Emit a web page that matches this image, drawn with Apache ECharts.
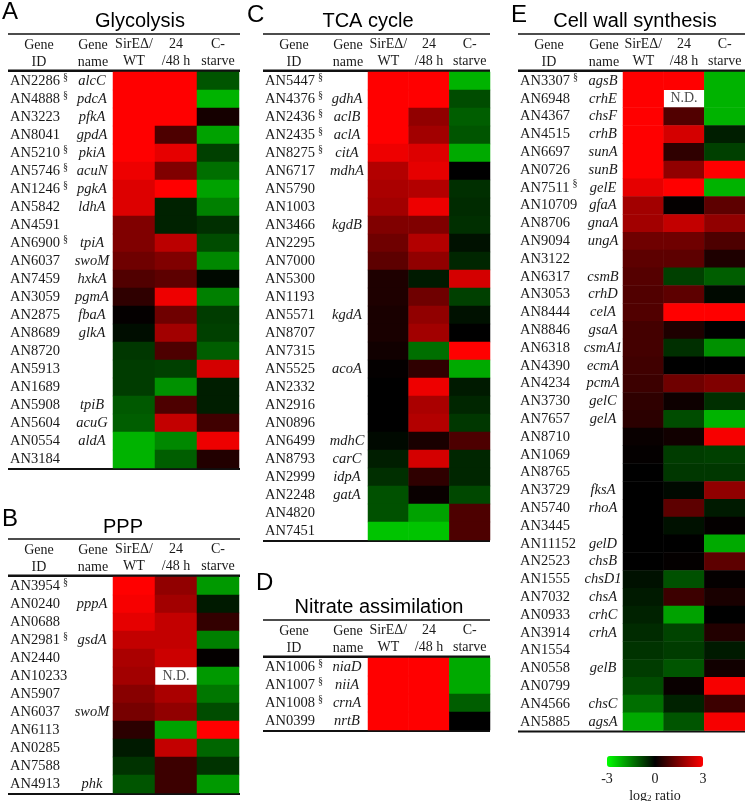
<!DOCTYPE html>
<html><head><meta charset="utf-8">
<script src="https://cdn.jsdelivr.net/npm/echarts@6/dist/echarts.min.js"></script>
<style>html,body{margin:0;padding:0;background:#fff}#c{width:745px;height:801px}</style>
</head><body><div id="c"></div><script>
// ---------- DATA ----------
const colLabels = ['SirEΔ/\nWT', '24\n/48 h', 'C-\nstarve'];

// A: Glycolysis
const idsA = ['AN2286§','AN4888§','AN3223','AN8041','AN5210§','AN5746§','AN1246§','AN5842','AN4591','AN6900§','AN6037','AN7459','AN3059','AN2875','AN8689','AN8720','AN5913','AN1689','AN5908','AN5604','AN0554','AN3184'];
const namesA = ['alcC','pdcA','pfkA','gpdA','pkiA','acuN','pgkA','ldhA','','tpiA','swoM','hxkA','pgmA','fbaA','glkA','','','','tpiB','acuG','aldA',''];
const sirA = [3,3,3,3,3,2.8,2.6,2.6,1.5,1.5,1.3,0.95,0.55,0.05,-0.15,-0.65,-0.7,-0.7,-1.05,-1.1,-2.1,-2.1];
const hA   = [3,3,3,0.9,2.7,1.5,3,-0.4,-0.4,2.2,1.5,1.1,2.8,1.3,1.9,0.9,-0.75,-1.7,0.9,2.3,-1.6,-1.1];
const cA   = [-1.0,-2.1,0.25,-1.9,-0.75,-1.3,-1.9,-1.5,-0.55,-0.9,-1.6,-0.1,-1.5,-0.7,-0.75,-1.1,2.5,-0.35,-0.35,0.75,2.8,0.4];

// B: PPP
const idsB = ['AN3954§','AN0240','AN0688','AN2981§','AN2440','AN10233','AN5907','AN6037','AN6113','AN0285','AN7588','AN4913'];
const namesB = ['','pppA','','gsdA','','','','swoM','','','','phk'];
const sirB = [3,2.9,2.7,2.3,2.0,1.9,1.6,1.4,0.5,-0.3,-0.6,-1.0];
const hB   = [1.7,1.9,2.3,2.3,2.4,null,2.0,1.7,-1.9,2.3,0.7,0.7];
const cB   = [-1.8,-0.3,0.6,-1.5,0.05,-1.8,-1.4,-0.9,3,-1.2,-0.6,-1.8];

// C: TCA cycle
const idsC = ['AN5447§','AN4376§','AN2436§','AN2435§','AN8275§','AN6717','AN5790','AN1003','AN3466','AN2295','AN7000','AN5300','AN1193','AN5571','AN8707','AN7315','AN5525','AN2332','AN2916','AN0896','AN6499','AN8793','AN2999','AN2248','AN4820','AN7451'];
const namesC = ['','gdhA','aclB','aclA','citA','mdhA','','','kgdB','','','','','kgdA','','','acoA','','','','mdhC','carC','idpA','gatA','',''];
const sirC = [3,3,3,3,2.8,2.1,2.0,1.9,1.5,1.3,1.1,0.35,0.35,0.3,0.3,0.2,0.05,0,0,0,-0.1,-0.35,-0.55,-0.95,-0.95,-2.3];
const hC   = [3,3,1.7,1.9,2.6,2.7,2.1,2.8,1.5,2.1,1.7,-0.3,1.3,1.7,1.9,-1.3,0.55,2.8,2.0,2.1,0.3,2.5,0.55,0.1,-1.9,-2.3];
const cC   = [-2.1,-0.9,-1.1,-1.0,-2.0,0,-0.55,-0.5,-0.55,-0.2,-0.45,2.5,-0.75,-0.2,0,3,-2.0,-0.3,-0.45,-0.65,0.9,-0.45,-0.45,-0.85,0.9,0.9];

// D: Nitrate assimilation
const idsD = ['AN1006§','AN1007§','AN1008§','AN0399'];
const namesD = ['niaD','niiA','crnA','nrtB'];
const sirD = [3,3,3,3];
const hD   = [3,3,3,3];
const cD   = [-2.0,-2.0,-1.1,0];

// E: Cell wall synthesis
const idsE = ['AN3307§','AN6948','AN4367','AN4515','AN6697','AN0726','AN7511§','AN10709','AN8706','AN9094','AN3122','AN6317','AN3053','AN8444','AN8846','AN6318','AN4390','AN4234','AN3730','AN7657','AN8710','AN1069','AN8765','AN3729','AN5740','AN3445','AN11152','AN2523','AN1555','AN7032','AN0933','AN3914','AN1554','AN0558','AN0799','AN4566','AN5885'];
const namesE = ['agsB','crhE','chsF','crhB','sunA','sunB','gelE','gfaA','gnaA','ungA','','csmB','crhD','celA','gsaA','csmA1','ecmA','pcmA','gelC','gelA','','','','fksA','rhoA','','gelD','chsB','chsD1','chsA','crhC','crhA','','gelB','','chsC','agsA'];
const sirE = [3,3,3,3,3,3,2.7,1.9,1.9,1.3,1.1,1.0,0.95,0.95,0.8,0.8,0.75,0.7,0.55,0.5,0.1,0.05,0,0,0,0,0,0,-0.2,-0.3,-0.4,-0.5,-0.6,-0.7,-0.9,-1.3,-2.0];
const hE   = [3,null,0.95,2.5,0.55,1.7,3,0.05,2.3,1.3,1.1,-0.75,1.1,3,0.35,-0.55,0,1.3,0.15,-0.9,0.2,-0.7,-0.65,-0.1,1.1,-0.2,0,0.05,-0.95,0.7,-1.9,-0.8,-0.7,-1.0,0.1,-0.4,-1.0];
const cE   = [-2.1,-2.1,-2.1,-0.35,-0.75,3,-2.1,1.1,1.7,0.9,0.35,-1.1,-0.1,3,0,-1.7,0,1.5,-0.55,-2.1,2.9,-0.75,-0.65,1.7,-0.3,0.05,-2.0,1.1,0.05,0.3,0,0.4,-0.3,0.2,2.9,0.7,2.9];

const scaleTicks = ['-3','0','3'];

// ---------- LAYOUT / STYLE ----------
const SERIF = '"Liberation Serif", "Times New Roman", serif';
const SANS = '"Liberation Sans", Arial, sans-serif';
const TXT = '#1a1a1a';

const panels = [
  {letter:'A', title:'Glycolysis', ids:idsA, names:namesA, cols:[sirA,hA,cA], left:113, width:126, top:72, rowH:18, idX:10, nameX:92, ruleL:8, ruleR:240, titleX:140, letterX:2, letterY:12, titleY:21},
  {letter:'B', title:'PPP', ids:idsB, names:namesB, cols:[sirB,hB,cB], left:113, width:126, top:577, rowH:18, idX:10, nameX:92, ruleL:8, ruleR:240, titleX:123, letterX:2, letterY:519, titleY:527},
  {letter:'C', title:'TCA cycle', ids:idsC, names:namesC, cols:[sirC,hC,cC], left:368, width:122, top:72, rowH:18, idX:265, nameX:347, ruleL:263, ruleR:490, titleX:368, letterX:247, letterY:15, titleY:21},
  {letter:'D', title:'Nitrate assimilation', ids:idsD, names:namesD, cols:[sirD,hD,cD], left:368, width:122, top:658, rowH:18, idX:265, nameX:347, ruleL:263, ruleR:490, titleX:379, letterX:256, letterY:583, titleY:607},
  {letter:'E', title:'Cell wall synthesis', ids:idsE, names:namesE, cols:[sirE,hE,cE], left:623, width:122, top:72, rowH:17.8, idX:520, nameX:603, ruleL:518, ruleR:745, titleX:635, letterX:511, letterY:15, titleY:21}
];

const grids=[], xAxes=[], yAxes=[], series=[], graphics=[], heatIdx=[];

function idFmt(v){
  if (v.endsWith('§')) return '{id|' + v.slice(0,-1) + '}{sup|§}';
  return '{id|' + v + '}';
}

panels.forEach(p => {
  const gi = grids.length;
  const n = p.ids.length;
  const h = n * p.rowH;
  grids.push({left:p.left, top:p.top, width:p.width, height:h, containLabel:false});
  xAxes.push({gridIndex:gi, type:'category', position:'top', data:colLabels,
    axisLine:{show:false}, axisTick:{show:false}, splitLine:{show:false},
    axisLabel:{interval:0, margin:2, fontFamily:SERIF, fontSize:14, lineHeight:17, color:TXT}});
  const yi = yAxes.length;
  yAxes.push({gridIndex:gi, type:'category', inverse:true, position:'left', data:p.ids,
    axisLine:{show:false}, axisTick:{show:false}, splitLine:{show:false},
    axisLabel:{interval:0, align:'left', margin:p.left - p.idX, formatter:idFmt,
      rich:{id:{fontFamily:SERIF, fontSize:14.5, color:TXT},
            sup:{fontFamily:SERIF, fontSize:10, color:TXT, padding:[0,0,8,3]}}}});
  yAxes.push({gridIndex:gi, type:'category', inverse:true, position:'left', data:p.names,
    axisLine:{show:false}, axisTick:{show:false}, splitLine:{show:false},
    axisLabel:{interval:0, align:'center', margin:p.left - p.nameX, fontFamily:SERIF,
      fontStyle:'italic', fontSize:14.5, color:TXT}});
  const data=[], nd=[];
  p.cols.forEach((arr,ci)=>arr.forEach((v,ri)=>{
    if (v === null) nd.push([ci,ri]); else data.push([ci,ri,v]);
  }));
  heatIdx.push(series.length);
  series.push({type:'heatmap', xAxisIndex:gi, yAxisIndex:yi, data:data, progressive:0,
    itemStyle:{borderWidth:0}, emphasis:{disabled:true}});
  if (nd.length) {
    series.push({type:'scatter', xAxisIndex:gi, yAxisIndex:yi, data:nd, symbol:'rect',
      symbolSize:[38,16], itemStyle:{color:'#fff'}, silent:true,
      label:{show:true, position:'inside', formatter:'N.D.', fontFamily:SERIF, fontSize:14, color:TXT}});
  }
  const topRule = p.top - 38;
  graphics.push({type:'text', x:p.letterX, y:p.letterY, style:{text:p.letter, font:'24px ' + SANS, fill:'#000', align:'left', verticalAlign:'middle'}});
  graphics.push({type:'text', x:p.titleX, y:p.titleY, style:{text:p.title, font:'20px ' + SANS, fill:'#000', align:'center', verticalAlign:'middle'}});
  graphics.push({type:'text', x:(p.idX + p.idX + 58)/2, y:topRule + 19.5, style:{text:'Gene\nID', font:'14px ' + SERIF, lineHeight:17, fill:TXT, align:'center', verticalAlign:'middle'}});
  graphics.push({type:'text', x:p.nameX + 1, y:topRule + 19.5, style:{text:'Gene\nname', font:'14px ' + SERIF, lineHeight:17, fill:TXT, align:'center', verticalAlign:'middle'}});
  graphics.push({type:'line', shape:{x1:p.ruleL, y1:topRule, x2:p.ruleR, y2:topRule}, style:{stroke:'#111', lineWidth:1.5}});
  graphics.push({type:'line', shape:{x1:p.ruleL, y1:p.top - 1.3, x2:p.ruleR, y2:p.top - 1.3}, style:{stroke:'#111', lineWidth:2.6}});
  graphics.push({type:'line', shape:{x1:p.ruleL, y1:p.top + h + 1, x2:p.ruleR, y2:p.top + h + 1}, style:{stroke:'#111', lineWidth:2}});
});

const cbLeft = 607, cbLen = 96, cbTop = 756, cbTh = 11;
scaleTicks.forEach((t,i)=>{
  graphics.push({type:'text', x:cbLeft + i*cbLen/2, y:cbTop + cbTh + 12, style:{text:t, font:'14px ' + SERIF, fill:TXT, align:'center', verticalAlign:'middle'}});
});
graphics.push({type:'text', x:cbLeft + cbLen/2, y:cbTop + cbTh + 29, style:{
  text:'{a|log}{s|2}{a| ratio}', align:'center', verticalAlign:'middle',
  rich:{a:{fontFamily:SERIF, fontSize:14, fill:TXT}, s:{fontFamily:SERIF, fontSize:9, fill:TXT, padding:[6,0,0,0]}}}});

const chart = echarts.init(document.getElementById('c'), null, {renderer:'canvas'});
chart.setOption({
  animation:false,
  backgroundColor:'#ffffff',
  grid:grids, xAxis:xAxes, yAxis:yAxes, series:series, graphic:graphics,
  visualMap:{type:'continuous', min:-3, max:3, seriesIndex:heatIdx, calculable:false,
    orient:'horizontal', left:cbLeft, top:cbTop, itemWidth:cbTh, itemHeight:cbLen, padding:0,
    text:null, inRange:{color:['#00ff00','#000000','#ff0000']}}
});
</script></body></html>
